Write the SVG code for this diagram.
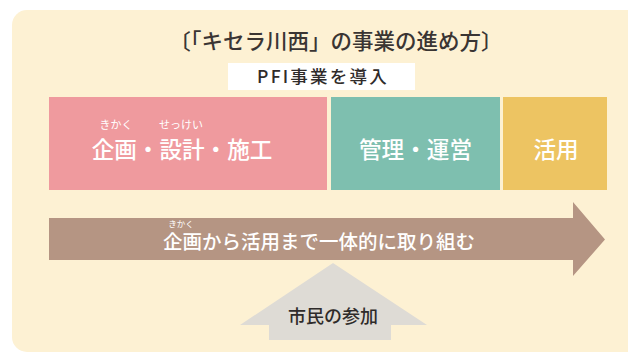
<svg xmlns="http://www.w3.org/2000/svg" width="628" height="362" viewBox="0 0 628 362">
  <style>
    .jp { font-family: "Noto Sans CJK JP", "Noto Sans", sans-serif; }
    .title { font-size: 21.5px; fill: #3a3533; font-weight: 500; }
    .pfi { font-size: 17.5px; fill: #2f2b2a; font-weight: 500; letter-spacing: 2.2px; }
    .bar { font-size: 22.6px; fill: #ffffff; font-weight: 500; }
    .ruby { font-size: 11px; fill: #ffffff; }
    .arrowtxt { font-size: 19.5px; fill: #ffffff; font-weight: 500; }
    .ruby2 { font-size: 8.5px; fill: #ffffff; }
    .citizen { font-size: 18px; fill: #2f2b2a; font-weight: 500; }
  </style>
  <rect x="0" y="0" width="628" height="362" fill="#ffffff"/>
  <rect id="panel" x="12" y="10" width="640" height="342" rx="15" ry="15" fill="#fdf1d3"/>

  <g id="title">
    <text class="jp title" x="336" y="49" text-anchor="middle">〔「キセラ川西」の事業の進め方〕</text>
  </g>

  <g id="pfi">
    <rect x="228" y="63" width="187" height="27" fill="#ffffff"/>
    <text class="jp pfi" x="323" y="83" text-anchor="middle">PFI事業を導入</text>
  </g>

  <g id="phase-plan">
    <rect x="49" y="97" width="278" height="93" fill="#ef9a9e"/>
    <text class="jp ruby" x="116" y="129" text-anchor="middle">きかく</text>
    <text class="jp ruby" x="181" y="129" text-anchor="middle">せっけい</text>
    <text class="jp bar" x="182" y="158" text-anchor="middle">企画・設計・施工</text>
  </g>

  <g id="phase-manage">
    <rect x="331" y="97" width="169" height="93" fill="#7ebfaf"/>
    <text class="jp bar" x="415.5" y="158" text-anchor="middle">管理・運営</text>
  </g>

  <g id="phase-use">
    <rect x="503" y="97" width="104" height="93" fill="#edc462"/>
    <text class="jp bar" x="556" y="158" text-anchor="middle">活用</text>
  </g>

  <g id="connectors">
    <g id="arrow-integrated">
      <polygon points="49,218 573,218 573,202 605,239.5 573,276 573,260 49,260" fill="#b59583"/>
      <text class="jp ruby2" x="181" y="227" text-anchor="middle">きかく</text>
      <text class="jp arrowtxt" x="319" y="249" text-anchor="middle">企画から活用まで一体的に取り組む</text>
    </g>
    <g id="arrow-citizen">
      <polygon points="333,263 427,325 391,325 391,340 269,340 269,325 240,325" fill="#dedbd5"/>
      <text class="jp citizen" x="333" y="323" text-anchor="middle">市民の参加</text>
    </g>
  </g>
</svg>
